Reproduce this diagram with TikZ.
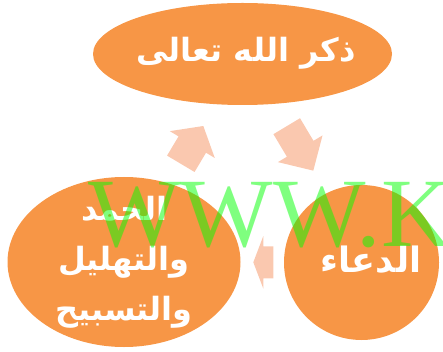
\documentclass[tikz,border=0pt]{standalone}
\usepackage{fontspec}
\usetikzlibrary{shapes.geometric}
\newfontfamily\arabicfont[Script=Arabic]{DejaVu Sans}
\setmainfont{Liberation Serif}
\TeXXeTstate=1
\definecolor{orangeA}{HTML}{F79646}
\definecolor{peachA}{HTML}{FAC8AF}
\newcommand\blockarrow[7]{% tailx, taily, angle, L, h, s, w
  \begin{scope}[shift={(#1,#2)},rotate=#3]
    \fill[peachA] (0,-#6) -- ({#4-#5},-#6) -- ({#4-#5},-#7) -- (#4,0)
      -- ({#4-#5},#7) -- ({#4-#5},#6) -- (0,#6) -- cycle;
  \end{scope}}
\begin{document}
\begin{tikzpicture}[x=1pt,y=-1pt,
  shapebox/.style={ellipse,fill=orangeA,draw=none,inner sep=0pt},
  label/.style={inner sep=0pt,text=white,align=center,
    font=\arabicfont\bfseries\fontsize{32}{50}\selectfont}]
\useasboundingbox (0,0) rectangle (443,352);
\clip (0,0) rectangle (443,352);
\blockarrow{180.8}{163.8}{59.2}{44}{21.6}{16}{26.2}
\blockarrow{286.7}{126.2}{-59.1}{51.8}{25.5}{15.5}{26}
\blockarrow{273.3}{262.3}{180}{20}{10}{16}{26.3}
\node[shapebox,minimum width=299pt,minimum height=102pt] (top) at (242.5,54) {};
\node[shapebox,minimum width=233pt,minimum height=170pt] (left) at (124,262) {};
\node[shapebox,minimum width=155pt,minimum height=155pt] (right) at (361.5,262.5) {};
\node[label] (toptext) at (246,53) {\beginR ذكر الله تعالى\endR};
\node[label] (lefttext) at (124,262) {\beginR الحمد\endR\\\beginR والتهليل\endR\\\beginR والتسبيح\endR};
\node[label,font=\arabicfont\bfseries\fontsize{35}{40}\selectfont] (righttext) at (371,260) {\beginR الدعاء\endR};
\node[anchor=base west,inner sep=0pt,text=green,text opacity=0.5,
  font=\fontsize{98}{98}\selectfont] (wm) at (88,246) {WWW.K};
\end{tikzpicture}
\end{document}
